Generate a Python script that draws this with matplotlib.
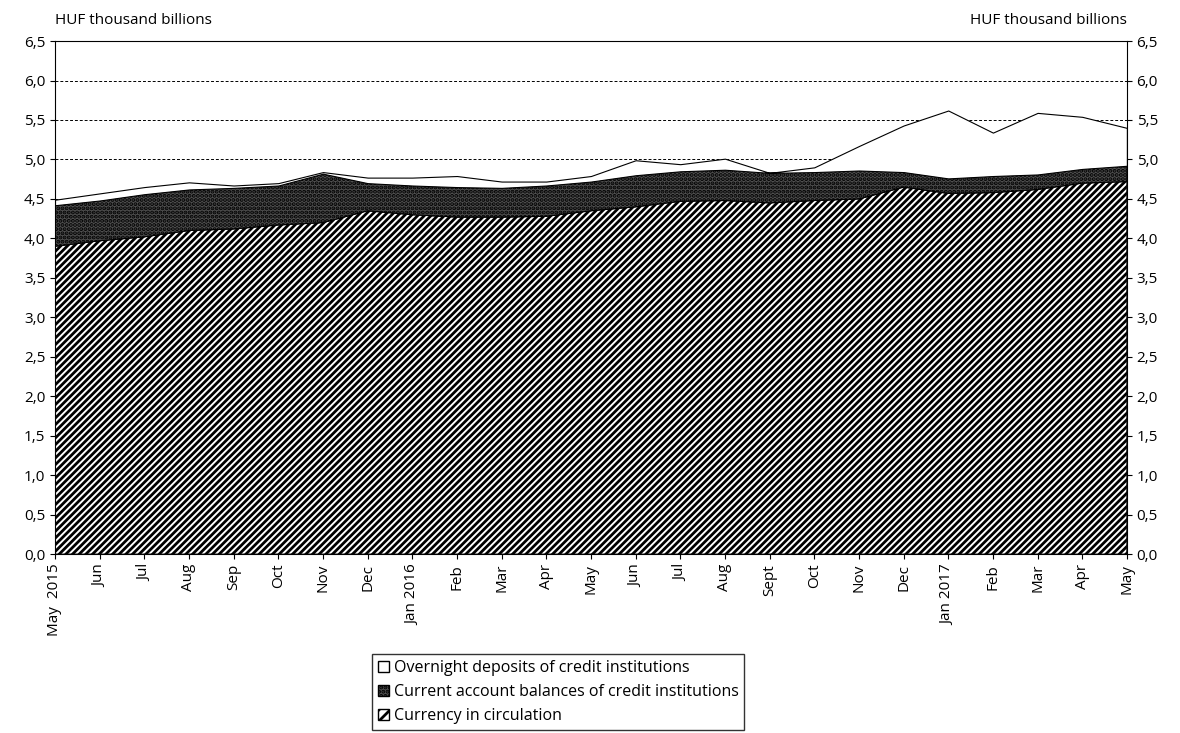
import matplotlib.pyplot as plt
import numpy as np
from matplotlib.patches import Patch

plt.rcParams['font.family'] = ['Open Sans', 'DejaVu Sans']
plt.rcParams['hatch.linewidth'] = 2.0

months = ["May  2015", "Jun", "Jul", "Aug", "Sep", "Oct", "Nov", "Dec", "Jan 2016", "Feb", "Mar", "Apr",
          "May", "Jun", "Jul", "Aug", "Sept", "Oct", "Nov", "Dec", "Jan 2017", "Feb", "Mar", "Apr", "May"]
# stacked levels (HUF thousand billions)
currency = [3.90, 3.97, 4.02, 4.10, 4.12, 4.17, 4.20, 4.35, 4.30, 4.27, 4.27, 4.28, 4.35, 4.40, 4.47, 4.48,
            4.45, 4.48, 4.50, 4.65, 4.57, 4.58, 4.62, 4.70, 4.72]
with_current = [4.42, 4.48, 4.56, 4.62, 4.64, 4.67, 4.82, 4.70, 4.67, 4.65, 4.64, 4.67, 4.72, 4.80, 4.85, 4.87,
                4.83, 4.84, 4.86, 4.84, 4.76, 4.79, 4.81, 4.88, 4.92]
total = [4.49, 4.57, 4.65, 4.71, 4.67, 4.70, 4.84, 4.77, 4.77, 4.79, 4.72, 4.72, 4.79, 4.99, 4.94, 5.01,
         4.83, 4.90, 5.17, 5.43, 5.62, 5.34, 5.59, 5.54, 5.40]

x = np.arange(len(months))
fig = plt.figure(figsize=(11.8, 7.33), dpi=100)
ax = fig.add_axes([0.0466, 0.244, 0.9084, 0.700])

for v in np.arange(0.5, 6.5, 0.5):
    ax.axhline(v, color='black', ls=(0, (3, 2)), lw=0.7, zorder=0)

ax.fill_between(x, 0, currency, facecolor='white', edgecolor='black', hatch='/////', lw=0.8, zorder=2)
ax.fill_between(x, currency, with_current, facecolor='#505050', edgecolor='black', hatch='....', lw=0.8, zorder=2)
ax.fill_between(x, with_current, total, facecolor='white', edgecolor='black', lw=0.8, zorder=2)

ax.set_xlim(0, len(months) - 1)
ax.set_ylim(0, 6.5)
yt = np.arange(0, 6.51, 0.5)
ax.set_yticks(yt)
ax.set_yticklabels([f"{v:.1f}".replace('.', ',') for v in yt], fontsize=11)
ax.tick_params(axis='y', right=True, labelright=True, direction='out')
ax.set_xticks(x)
ax.set_xticklabels(months, rotation=90, fontsize=11)
ax.text(0.0, 1.025, "HUF thousand billions", transform=ax.transAxes, fontsize=11, ha='left', va='bottom')
ax.text(1.0, 1.025, "HUF thousand billions", transform=ax.transAxes, fontsize=11, ha='right', va='bottom')

handles = [Patch(facecolor='white', edgecolor='black', label='Overnight deposits of credit institutions'),
           Patch(facecolor='#505050', edgecolor='black', hatch='....', label='Current account balances of credit institutions'),
           Patch(facecolor='white', edgecolor='black', hatch='///', label='Currency in circulation')]
fig.legend(handles=handles, loc='upper center', bbox_to_anchor=(0.473, 0.118), fontsize=11.5, frameon=True,
           fancybox=False, edgecolor='black', handlelength=0.7, handleheight=0.7, handletextpad=0.3,
           labelspacing=0.5, borderpad=0.35)

fig.savefig("out.png", dpi=100)
